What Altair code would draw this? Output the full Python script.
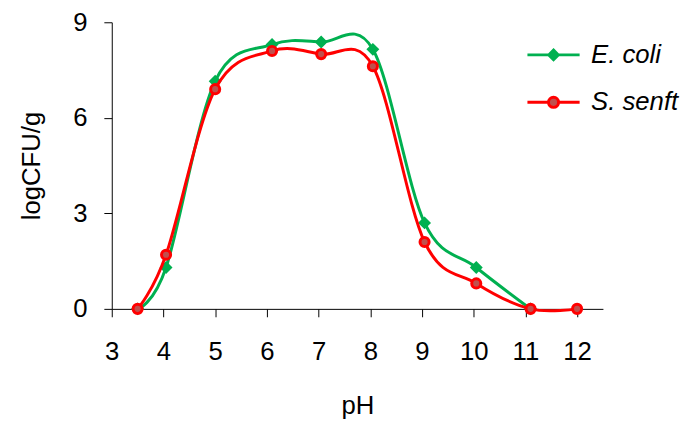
import altair as alt
import pandas as pd

# ---- data ----
series_names = ["E. coli", "S. senft"]
ecoli_ph = [3.5, 4.05, 5.0, 6.1, 7.05, 8.05, 9.05, 10.05, 11.1]
ecoli_cfu = [0.0, 1.3, 7.15, 8.3, 8.38, 8.15, 2.7, 1.3, 0.0]
senft_ph = [3.5, 4.05, 5.0, 6.1, 7.05, 8.05, 9.05, 10.05, 11.1, 12.0]
senft_cfu = [0.0, 1.7, 6.9, 8.1, 8.0, 7.62, 2.1, 0.8, 0.0, 0.0]
x_ticks = [3, 4, 5, 6, 7, 8, 9, 10, 11, 12]
y_ticks = [0, 3, 6, 9]

GREEN = "#00B050"
RED = "#FF0000"
CIRCLE_FILL = "#C0504D"
FONT = "Liberation Sans"

df = pd.concat([
    pd.DataFrame({"pH": ecoli_ph, "cfu": ecoli_cfu, "series": series_names[0]}),
    pd.DataFrame({"pH": senft_ph, "cfu": senft_cfu, "series": series_names[1]}),
], ignore_index=True)

x_enc = alt.X("pH:Q", scale=alt.Scale(domain=[3, 12.5], nice=False, zero=False),
              axis=alt.Axis(title="pH", values=x_ticks, grid=False, tickSize=8,
                            labelPadding=22, titlePadding=29, labelFlush=False))
y_enc = alt.Y("cfu:Q", scale=alt.Scale(domain=[0, 9], nice=False),
              axis=alt.Axis(title="logCFU/g", values=y_ticks, grid=False, tickSize=8,
                            labelPadding=17, titlePadding=29, labelFlush=False))

base = alt.Chart(df).encode(x=x_enc, y=y_enc)

line_e = base.transform_filter(alt.datum.series == series_names[0]).mark_line(
    color=GREEN, strokeWidth=3, interpolate="cardinal")
pts_e = base.transform_filter(alt.datum.series == series_names[0]).mark_point(
    shape="diamond", filled=True, color=GREEN, stroke=GREEN, strokeWidth=1.5,
    size=120, opacity=1)
line_s = base.transform_filter(alt.datum.series == series_names[1]).mark_line(
    color=RED, strokeWidth=3, interpolate="cardinal")
pts_s = base.transform_filter(alt.datum.series == series_names[1]).mark_point(
    shape="circle", filled=True, fill=CIRCLE_FILL, stroke=RED, strokeWidth=3,
    size=85, opacity=1)

# legend symbols: line with marker (custom paths, scaled by sqrt(size)/2)
path_e = "M-4.4,0L4.4,0M0,-0.8L0.8,0L0,0.8L-0.8,0Z"
path_s = ("M-4.4,0L-0.85,0M0.85,0L4.4,0"
          "M-0.85,0A0.85,0.85,0,1,1,0.85,0A0.85,0.85,0,1,1,-0.85,0Z")

leg = alt.Legend(title=None, orient="none", legendX=434, legendY=20, padding=0,
                 labelFont=FONT, labelFontSize=26, labelFontStyle="italic",
                 labelColor="black", labelOffset=25, rowPadding=22,
                 symbolSize=144, symbolStrokeWidth=3, symbolOpacity=1)

legend_layer = base.transform_filter(alt.datum.cfu < -100).mark_point(
    filled=True, size=144, strokeWidth=3, opacity=1).encode(
    shape=alt.Shape("series:N", scale=alt.Scale(domain=series_names, range=[path_e, path_s]), legend=leg),
    stroke=alt.Stroke("series:N", scale=alt.Scale(domain=series_names, range=[GREEN, RED]), legend=leg),
    fill=alt.Fill("series:N", scale=alt.Scale(domain=series_names, range=[GREEN, CIRCLE_FILL]), legend=leg),
)

chart = alt.layer(line_e, pts_e, line_s, pts_s, legend_layer).properties(
    width=497, height=290,
    autosize=alt.AutoSizeParams(type="none"),
    padding={"left": 105, "top": 12, "right": 80, "bottom": 110},
).configure_view(stroke=None).configure_axis(
    labelFont=FONT, titleFont=FONT, labelFontSize=26, titleFontSize=26,
    labelColor="black", titleColor="black", titleFontWeight="normal",
    domainColor="black", tickColor="black", domainWidth=1, tickWidth=1,
)

chart.save("out.html", embed_options={"renderer": "svg", "actions": False})
